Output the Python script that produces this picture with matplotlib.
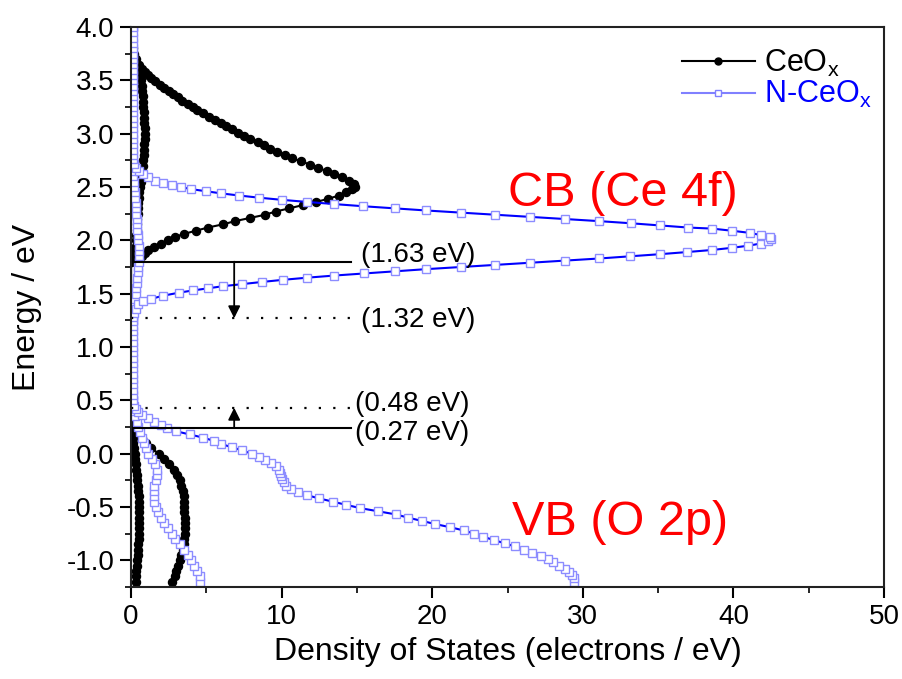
import numpy as np
import matplotlib
matplotlib.use("Agg")
import matplotlib.pyplot as plt
from matplotlib.lines import Line2D

plt.rcParams['font.family'] = ['Liberation Sans', 'DejaVu Sans']
plt.rcParams['mathtext.default'] = 'regular'
plt.rcParams['axes.unicode_minus'] = False

# ---------------- CeOx (black) ----------------
# main branch: valence band tail + Ce 4f peak
ceox_main_e = [-1.20, -1.15, -1.10, -1.05, -1.00, -0.95, -0.90, -0.85, -0.80, -0.75,
               -0.70, -0.65, -0.60, -0.55, -0.50, -0.45, -0.40, -0.35, -0.30, -0.25,
               -0.20, -0.15, -0.10, -0.05, 0.00, 0.05, 0.10, 0.15, 0.20, 0.25, 0.30,
               1.80, 1.82, 1.85, 1.88, 1.91, 1.94, 1.97, 2.00, 2.03, 2.06,
               2.09, 2.12, 2.15, 2.18, 2.21, 2.24, 2.27, 2.30, 2.33, 2.36,
               2.39, 2.42, 2.45, 2.48, 2.50, 2.53, 2.56, 2.59, 2.62, 2.65,
               2.68, 2.71, 2.74, 2.77, 2.80, 2.83, 2.86, 2.89, 2.92, 2.95,
               2.98, 3.01, 3.04, 3.07, 3.10, 3.13, 3.16, 3.19, 3.22, 3.25,
               3.28, 3.31, 3.34, 3.37, 3.40, 3.43, 3.46, 3.49, 3.52, 3.55,
               3.58, 3.61, 3.64, 3.67, 3.70, 3.75, 3.80, 3.90, 4.00]
ceox_main_dos = [2.75, 2.9, 3.0, 3.15, 3.25, 3.35, 3.45, 3.5, 3.55, 3.6,
                 3.6, 3.6, 3.6, 3.55, 3.55, 3.5, 3.5, 3.45, 3.35, 3.25,
                 3.05, 2.85, 2.55, 2.2, 1.85, 1.35, 1.0, 0.7, 0.4, 0.1, 0.0,
                 0.0, 0.45, 0.7, 0.9, 1.1, 1.5, 2.0, 2.45, 2.9, 3.5,
                 4.3, 5.1, 6.1, 6.9, 7.9, 8.9, 9.6, 10.5, 11.4, 12.3,
                 13.1, 13.8, 14.3, 14.7, 14.9, 14.8, 14.5, 14.0, 13.5, 13.0,
                 12.4, 11.9, 11.3, 10.7, 10.2, 9.7, 9.2, 8.8, 8.4, 7.9,
                 7.5, 7.1, 6.7, 6.3, 6.0, 5.6, 5.2, 4.8, 4.4, 4.1,
                 3.8, 3.4, 3.1, 2.8, 2.5, 2.2, 1.9, 1.6, 1.3, 1.1,
                 0.9, 0.7, 0.5, 0.35, 0.2, 0.1, 0.05, 0.0, 0.0]
# small second branch
ceox_inner_e = [-1.20, -1.15, -1.10, -1.05, -1.00, -0.95, -0.90, -0.85, -0.80, -0.75,
                -0.70, -0.65, -0.60, -0.55, -0.50, -0.45, -0.40, -0.35, -0.30, -0.25,
                -0.20, -0.15, -0.10, -0.05, 0.00, 0.05, 0.10, 0.15, 0.20, 0.25, 0.30,
                1.80, 1.85, 1.90, 1.95, 2.00, 2.05, 2.10, 2.15, 2.20, 2.25,
                2.30, 2.35, 2.40, 2.45, 2.50, 2.55, 2.60, 2.65, 2.70, 2.75,
                2.80, 2.85, 2.90, 2.95, 3.00, 3.05, 3.10, 3.15, 3.20, 3.25,
                3.30, 3.35, 3.40, 3.45, 3.50, 3.55, 3.60, 3.65, 3.70, 3.75,
                3.80, 3.85, 3.90, 3.95, 4.00]
ceox_inner_dos = [0.3, 0.33, 0.36, 0.38, 0.4, 0.43, 0.45, 0.48, 0.5, 0.52,
                  0.54, 0.55, 0.55, 0.55, 0.54, 0.52, 0.5, 0.47, 0.44, 0.42,
                  0.4, 0.36, 0.32, 0.28, 0.25, 0.2, 0.15, 0.1, 0.05, 0.02, 0.0,
                  0.0, 0.15, 0.25, 0.3, 0.33, 0.36, 0.38, 0.4, 0.42, 0.44,
                  0.46, 0.48, 0.5, 0.55, 0.6, 0.65, 0.7, 0.74, 0.78, 0.8,
                  0.83, 0.86, 0.88, 0.9, 0.9, 0.9, 0.88, 0.86, 0.84, 0.82,
                  0.8, 0.77, 0.74, 0.7, 0.65, 0.58, 0.5, 0.4, 0.3, 0.2,
                  0.1, 0.05, 0.0, 0.0, 0.0]

# ---------------- N-CeOx (blue) ----------------
nceox_main_e = [-1.20, -1.17, -1.14, -1.11, -1.08, -1.05, -1.02, -0.99, -0.96, -0.93,
                -0.90, -0.87, -0.84, -0.81, -0.78, -0.75, -0.72, -0.69, -0.66, -0.63,
                -0.60, -0.57, -0.54, -0.51, -0.48, -0.45, -0.42, -0.39, -0.36, -0.33,
                -0.30, -0.27, -0.24, -0.21, -0.18, -0.15, -0.12, -0.09, -0.06, -0.03,
                0.00, 0.03, 0.06, 0.09, 0.12, 0.15, 0.18, 0.21, 0.24, 0.27,
                0.30, 0.33, 0.36, 0.39, 0.42, 0.45,
                0.50, 0.55, 0.60, 0.65, 0.70, 0.75, 0.80, 0.85, 0.90, 0.95,
                1.00, 1.05, 1.10, 1.15, 1.20, 1.24, 1.28, 1.32, 1.36, 1.40,
                1.43, 1.45, 1.48, 1.51, 1.53, 1.55, 1.57, 1.59, 1.61, 1.63,
                1.65, 1.67, 1.69, 1.71, 1.73, 1.75, 1.77, 1.79, 1.81, 1.83,
                1.85, 1.87, 1.89, 1.91, 1.93, 1.95, 1.97, 1.99, 2.01,
                2.03, 2.05, 2.07, 2.09, 2.11, 2.12, 2.14, 2.16, 2.18, 2.20,
                2.22, 2.24, 2.26, 2.28, 2.30, 2.32, 2.34, 2.36, 2.38, 2.40,
                2.42, 2.44, 2.46, 2.48, 2.50, 2.52, 2.54, 2.56, 2.59, 2.62,
                2.65, 2.68, 2.72, 2.76, 2.80, 2.85, 2.90, 2.95, 3.00, 3.05,
                3.10, 3.15, 3.20, 3.25, 3.30, 3.35, 3.40, 3.45, 3.50, 3.55,
                3.60, 3.65, 3.70, 3.75, 3.80, 3.85, 3.90, 3.95, 4.00]
nceox_main_dos = [29.4, 29.4, 29.3, 29.1, 28.8, 28.4, 28.0, 27.7, 27.2, 26.6,
                  26.1, 25.5, 24.8, 24.1, 23.4, 22.8, 22.1, 21.2, 20.2, 19.3,
                  18.4, 17.6, 16.4, 15.2, 14.3, 13.4, 12.5, 11.7, 11.1, 10.6,
                  10.3, 10.15, 10.0, 9.95, 9.9, 9.8, 9.6, 9.3, 8.9, 8.5,
                  8.0, 7.4, 6.7, 6.0, 5.5, 4.8, 3.9, 3.0, 2.4, 2.0,
                  1.5, 1.1, 0.7, 0.45, 0.3, 0.2,
                  0.15, 0.12, 0.1, 0.1, 0.1, 0.1, 0.1, 0.1, 0.1, 0.1,
                  0.1, 0.1, 0.1, 0.1, 0.1, 0.1, 0.12, 0.2, 0.3, 0.45,
                  0.8, 1.3, 2.1, 3.2, 4.1, 5.1, 6.1, 7.4, 8.7, 10.1,
                  11.7, 13.5, 15.5, 17.5, 19.6, 21.9, 24.2, 26.5, 28.8, 31.1,
                  33.1, 35.1, 36.9, 38.6, 39.9, 41.0, 41.8, 42.3, 42.5,
                  42.4, 41.8, 41.1, 39.9, 38.6, 37.0, 35.1, 33.2, 31.1, 28.8,
                  26.5, 24.2, 21.9, 19.6, 17.5, 15.4, 13.5, 11.7, 10.0, 8.5,
                  7.2, 6.0, 5.0, 4.0, 3.3, 2.7, 2.1, 1.6, 1.1, 0.8,
                  0.5, 0.3, 0.2, 0.15, 0.12, 0.1, 0.1, 0.1, 0.1, 0.1,
                  0.1, 0.1, 0.1, 0.1, 0.1, 0.1, 0.1, 0.1, 0.1, 0.1,
                  0.1, 0.1, 0.1, 0.1, 0.1, 0.1, 0.1, 0.1, 0.1]
nceox_inner_e = [-1.20, -1.15, -1.10, -1.05, -1.00, -0.95, -0.90, -0.85, -0.80, -0.75,
                 -0.70, -0.65, -0.60, -0.55, -0.50, -0.45, -0.40, -0.35, -0.30, -0.25,
                 -0.20, -0.15, -0.10, -0.05, 0.00, 0.05, 0.10, 0.15, 0.20, 0.25,
                 0.30, 0.35, 0.40, 0.45, 0.50,
                 1.25, 1.30, 1.35, 1.40, 1.45, 1.50, 1.55, 1.60, 1.65, 1.70,
                 1.75, 1.80, 1.85, 1.90, 1.95, 2.00, 2.05, 2.10, 2.15, 2.20,
                 2.25, 2.30, 2.35, 2.40, 2.45, 2.50, 2.55, 2.60, 2.65, 2.70,
                 4.00]
nceox_inner_dos = [4.6, 4.6, 4.4, 4.2, 4.0, 3.8, 3.5, 3.25, 2.95, 2.7,
                   2.45, 2.2, 2.0, 1.8, 1.65, 1.55, 1.5, 1.5, 1.55, 1.65,
                   1.75, 1.75, 1.6, 1.4, 1.15, 1.0, 0.88, 0.75, 0.6, 0.48,
                   0.38, 0.28, 0.2, 0.15, 0.1,
                   0.1, 0.12, 0.15, 0.2, 0.25, 0.3, 0.35, 0.38, 0.42, 0.45,
                   0.48, 0.5, 0.52, 0.52, 0.5, 0.48, 0.45, 0.42, 0.4, 0.38,
                   0.35, 0.32, 0.3, 0.27, 0.24, 0.2, 0.17, 0.14, 0.12, 0.1,
                   0.1]

# band-edge lines: energy, style, label, label x, label y
edge_e = [1.80, 1.27, 0.43, 0.24]
edge_style = ['-', ':', ':', '-']
edge_text = ['(1.63 eV)', '(1.32 eV)', '(0.48 eV)', '(0.27 eV)']
edge_text_x = [15.3, 15.3, 14.85, 14.85]
edge_text_y = [1.86, 1.25, 0.47, 0.19]

fig = plt.figure(figsize=(9.03, 6.79), dpi=100)
ax = fig.add_axes([0.1451, 0.1355, 0.8339, 0.8247])

black_kw = dict(color='black', lw=1.5, marker='o', ms=5.8, mfc='black', mec='black')
blue_kw = dict(color='#0000ff', lw=1.5, marker='s', ms=5.4, mfc='white',
               mec='#8c8cff', mew=1.0)

ax.plot(ceox_inner_dos, ceox_inner_e, **black_kw)
ax.plot(ceox_main_dos, ceox_main_e, **black_kw)
ax.plot(nceox_inner_dos, nceox_inner_e, **blue_kw)
ax.plot(nceox_main_dos, nceox_main_e, **blue_kw)

for e, ls, txt, tx, ty in zip(edge_e, edge_style, edge_text, edge_text_x, edge_text_y):
    if ls == '-':
        ax.plot([0, 14.6], [e, e], color='black', lw=1.5)
    else:
        ax.plot([0, 14.6], [e, e], color='black', lw=1.6, ls=(0, (1, 5.5)))
    ax.text(tx, ty, txt, fontsize=20, va='center', ha='left')

ax.annotate('', xy=(6.85, 1.27), xytext=(6.85, 1.80),
            arrowprops=dict(arrowstyle='-|>', color='black', lw=1.3,
                            mutation_scale=18, shrinkA=0, shrinkB=0))
ax.annotate('', xy=(6.85, 0.43), xytext=(6.85, 0.24),
            arrowprops=dict(arrowstyle='-|>', color='black', lw=1.3,
                            mutation_scale=18, shrinkA=0, shrinkB=0))

ax.text(25.0, 2.32, 'CB (Ce 4f)', color='red', fontsize=35, va='baseline', ha='left')
ax.text(25.3, -0.76, 'VB (O 2p)', color='red', fontsize=35, va='baseline', ha='left')

ax.set_xlim(0, 50)
ax.set_ylim(-1.2, 4.0)
ax.set_xticks([0, 10, 20, 30, 40, 50])
ax.set_xticks([5, 15, 25, 35, 45], minor=True)
ax.set_yticks([-1.0, -0.5, 0.0, 0.5, 1.0, 1.5, 2.0, 2.5, 3.0, 3.5, 4.0])
ax.set_yticks(np.arange(-1.25, 4.0, 0.5), minor=True)
ax.set_yticklabels(['%.1f' % v for v in ax.get_yticks()])
ax.tick_params(which='major', direction='out', length=8, width=1.5, labelsize=20,
               top=False, right=False, pad=4)
ax.tick_params(which='minor', direction='out', length=4, width=1.2, top=False, right=False)
for sp in ax.spines.values():
    sp.set_linewidth(1.5)
    sp.set_color('#222222')

ax.set_xlabel('Density of States (electrons / eV)', fontsize=23, va='center')
ax.set_ylabel('Energy / eV', fontsize=23, va='center')
ax.xaxis.set_label_coords(0.5, -0.116)
ax.yaxis.set_label_coords(-0.138, 0.5)

handles = [Line2D([], [], color='black', lw=1.5, marker='o', ms=5, mfc='black'),
           Line2D([], [], color='#8080ff', lw=1.5, marker='s', ms=5, mfc='white',
                  mec='#8080ff')]
ax.legend(handles, ['CeO$_x$', 'N-CeO$_x$'], loc='upper right', frameon=False,
          fontsize=22, handlelength=2.4, handletextpad=0.3,
          labelcolor=['black', '#0000ff'], bbox_to_anchor=(1.0, 0.985),
          borderaxespad=0.0, labelspacing=0.02)

fig.savefig('out.png', dpi=100)
